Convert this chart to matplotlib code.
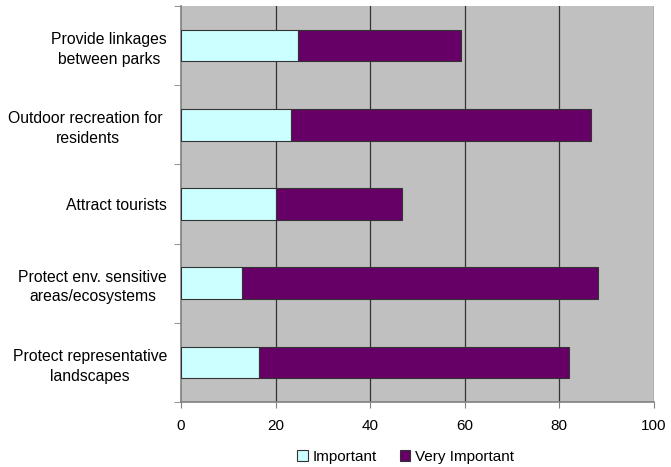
import numpy as np
import matplotlib.pyplot as plt

plt.rcParams["font.family"] = ["Liberation Sans", "DejaVu Sans"]

categories = [
    "Provide linkages\nbetween parks",
    "Outdoor recreation for \nresidents",
    "Attract tourists",
    "Protect env. sensitive\nareas/ecosystems",
    "Protect representative\nlandscapes",
]
important = [24.8, 23.3, 20.0, 13.0, 16.6]
very_important = [34.4, 63.5, 26.8, 75.2, 65.4]
x_ticks = [0, 20, 40, 60, 80, 100]

fig = plt.figure(figsize=(6.71, 4.67), dpi=100)
ax = fig.add_axes([0.2697, 0.1392, 0.7045, 0.848])
ax.set_facecolor("#C0C0C0")

y = np.arange(len(categories))
ax.barh(y, important, height=0.4, color="#CCFFFF", edgecolor="#333333",
        linewidth=0.8, label="Important", zorder=3)
ax.barh(y, very_important, left=important, height=0.4, color="#660066",
        edgecolor="#333333", linewidth=0.8, label="Very Important", zorder=3)

ax.set_xlim(0, 100)
ax.set_ylim(len(categories) - 0.5, -0.5)
ax.set_xticks(x_ticks)
ax.set_xticklabels([str(t) for t in x_ticks], fontsize=11)
ax.set_yticks(y)
ax.set_yticklabels(categories, fontsize=11.3, ha="right", multialignment="center",
                   linespacing=1.4)
ax.tick_params(axis="y", length=0, pad=10)
ax.set_yticks(np.arange(-0.5, len(categories)), minor=True)
ax.tick_params(axis="y", which="minor", length=5, color="#808080", direction="out")
ax.tick_params(axis="x", length=4, color="#808080", direction="out", pad=8)

for t in x_ticks[1:]:
    ax.axvline(t, color="#333333", linewidth=0.9, zorder=1)

for side in ["top", "right"]:
    ax.spines[side].set_visible(False)
for side in ["left", "bottom"]:
    ax.spines[side].set_color("#808080")
    ax.spines[side].set_linewidth(1.2)

handles, labels = ax.get_legend_handles_labels()
fig.legend(handles, labels, loc="center", bbox_to_anchor=(405.5 / 671, 1 - 457 / 467),
           ncol=2, frameon=False, fontsize=11, handlelength=0.7, handleheight=0.7,
           handletextpad=0.3, columnspacing=1.5, borderpad=0)

fig.savefig("out.png", dpi=100)
